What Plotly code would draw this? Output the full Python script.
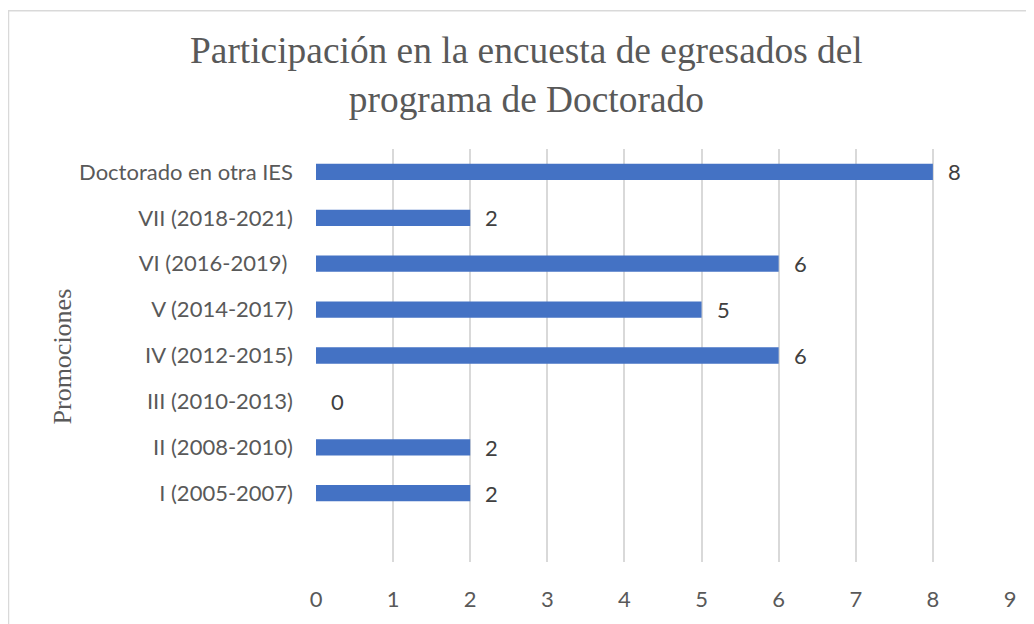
import plotly.graph_objects as go

# Data (bottom to top)
categories = [
    "I (2005-2007)",
    "II (2008-2010)",
    "III (2010-2013)",
    "IV (2012-2015)",
    "V (2014-2017)",
    "VI (2016-2019)\u00a0",
    "VII (2018-2021)",
    "Doctorado en otra IES",
]
values = [2, 2, 0, 6, 5, 6, 2, 8]
x_ticks = [0, 1, 2, 3, 4, 5, 6, 7, 8, 9]

BAR = "#4472C4"
GRID = "#D9D9D9"
GREY = "#595959"
LABEL = "#404040"
SANS = "Lato, 'Open Sans', sans-serif"
SERIF = "'Liberation Serif', 'Times New Roman', serif"

# the page body keeps its 8px margin, so the figure is drawn 8px in
OFF = 8
W, H = 1034 - OFF, 624 - OFF
L, R, T, B = 316 - OFF, 24, 149 - OFF, 57
pw, ph = W - L - R, H - T - B


def px(x):
    """page x pixel -> paper coordinate"""
    return (x - OFF - L) / pw


def py(y):
    """page y pixel -> paper coordinate"""
    return (H - B - (y - OFF)) / ph


positions = list(range(len(categories)))

fig = go.Figure()
fig.add_trace(
    go.Bar(
        x=values,
        y=positions,
        orientation="h",
        width=0.355,
        marker=dict(color=BAR, line=dict(width=0)),
        hoverinfo="skip",
    )
)

# value labels just past the end of each bar
for v, p in zip(values, positions):
    fig.add_annotation(
        x=v, y=p, text=str(v), showarrow=False,
        xanchor="left", xshift=13,
        font=dict(family=SANS, size=22, color=LABEL),
    )

fig.update_xaxes(
    range=[0, 9],
    tickvals=x_ticks,
    showgrid=True, gridcolor=GRID, gridwidth=1.5,
    zeroline=False, showline=False,
    ticks="", ticklabelstandoff=22,
    tickfont=dict(family=SANS, size=22, color=GREY),
    fixedrange=True,
)
fig.update_yaxes(
    range=[-1.5, 7.5],
    tickvals=positions,
    ticktext=categories,
    showgrid=False, zeroline=False, showline=False,
    ticks="", ticklabelstandoff=22,
    tickfont=dict(family=SANS, size=22, color=GREY),
    fixedrange=True,
)

# chart title and the rotated axis title
fig.add_annotation(
    text="Participación en la encuesta de egresados del<br>programa de Doctorado",
    xref="paper", yref="paper",
    x=px(526), y=py(74),
    xanchor="center", yanchor="middle", showarrow=False,
    font=dict(family=SERIF, size=37.4, color=GREY),
)
fig.add_annotation(
    text="Promociones",
    xref="paper", yref="paper",
    x=px(62), y=py(359),
    textangle=-90, xanchor="center", yanchor="middle", showarrow=False,
    font=dict(family=SERIF, size=26, color=GREY),
)

# the chart-area frame (right and bottom edges fall outside the crop)
fig.add_shape(
    type="rect", xref="paper", yref="paper",
    x0=px(8.5), x1=1.2, y0=-0.4, y1=py(9),
    line=dict(color=GRID, width=1.5), fillcolor="rgba(0,0,0,0)", layer="below",
)

fig.update_layout(
    width=W, height=H,
    margin=dict(l=L, r=R, t=T, b=B),
    paper_bgcolor="white", plot_bgcolor="white",
    showlegend=False,
)

fig.write_html("out.html", config={"displayModeBar": False})
